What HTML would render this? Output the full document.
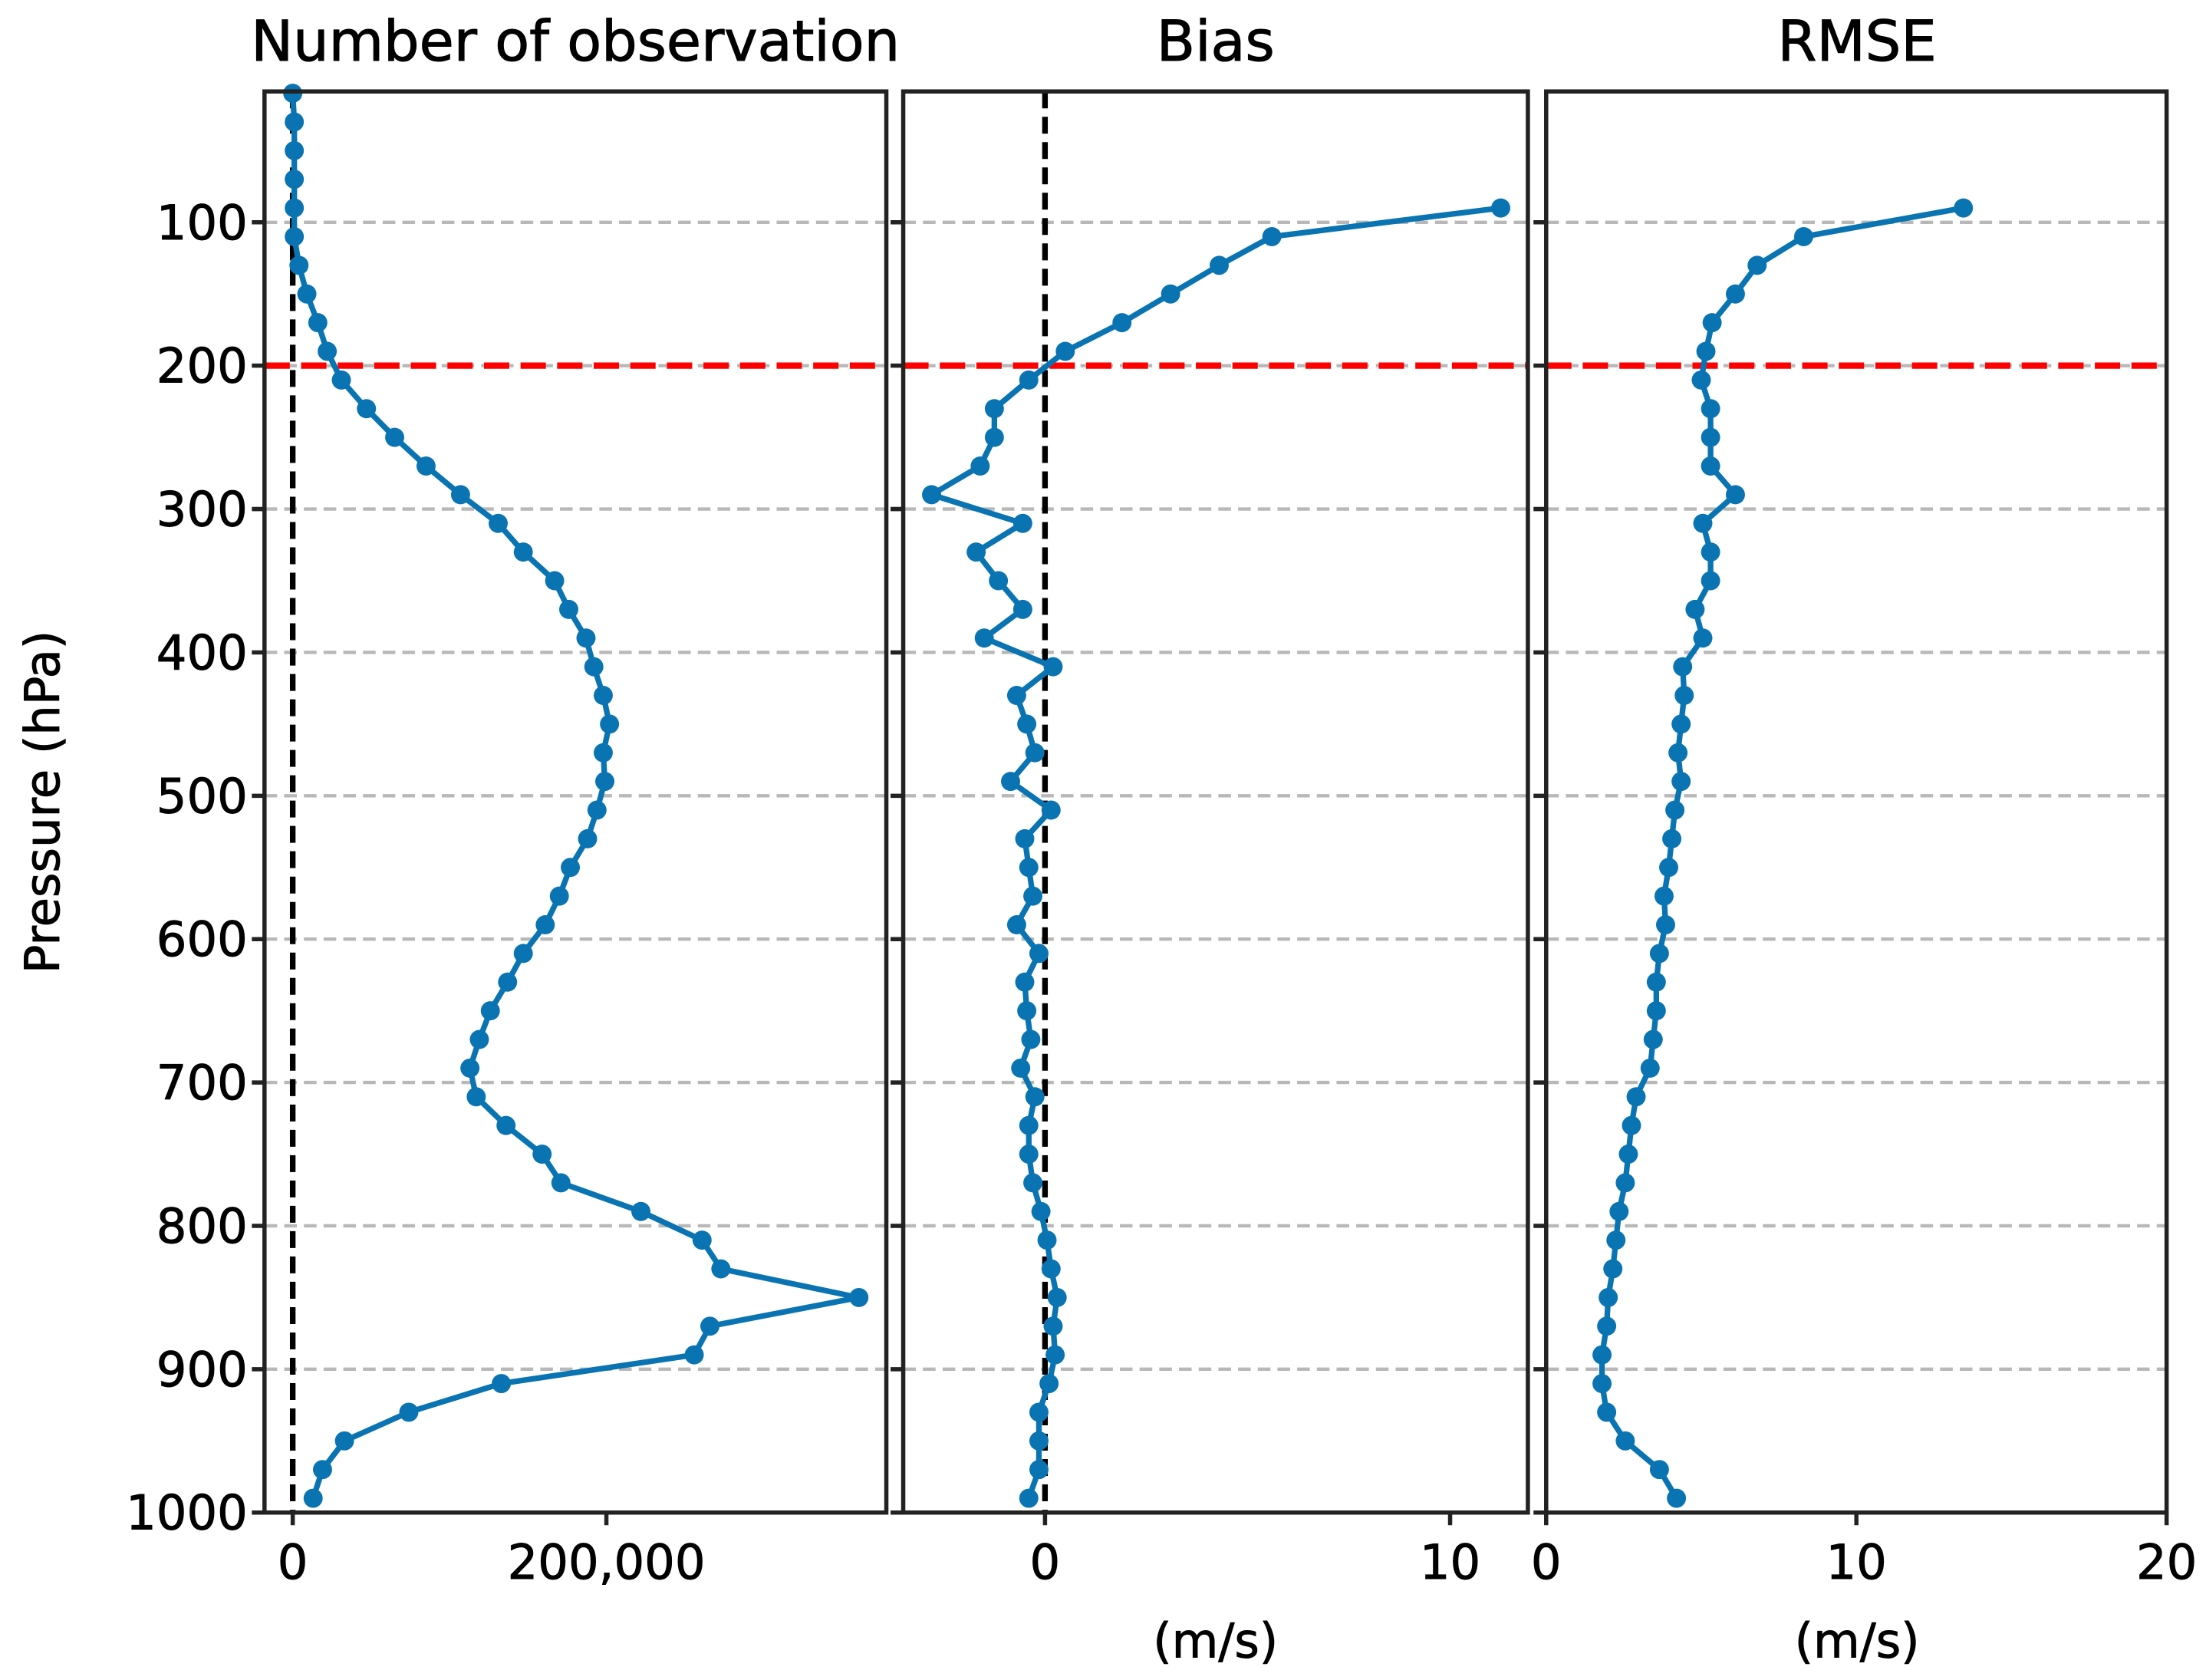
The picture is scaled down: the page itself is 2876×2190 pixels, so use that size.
<!DOCTYPE html>
<html><head><meta charset="utf-8"><style>
html,body{margin:0;padding:0;background:#fff}
svg{display:block;font-family:"DejaVu Sans","Liberation Sans",sans-serif}
</style></head><body>
<svg id="chart" width="2876" height="2190" viewBox="0 0 1568 1194" xmlns="http://www.w3.org/2000/svg"></svg>
<script>
const pressureLevels = [10,30,50,70,90,110,130,150,170,190,210,230,250,270,290,310,330,350,370,390,410,430,450,470,490,510,530,550,570,590,610,630,650,670,690,710,730,750,770,790,810,830,850,870,890,910,930,950,970,990];
const obsCount = [0,1000,1000,1000,1000,1000,4000,9000,16000,22000,31000,47000,65000,85000,107000,131000,147000,167000,176000,187000,192000,198000,202000,198000,199000,194000,188000,177000,170000,161000,147000,137000,126000,119000,113000,117000,136000,159000,171000,222000,261000,273000,361000,266000,256000,133000,74000,33000,19000,13000];
const biasLevels = pressureLevels.slice(4);
const biasValues = [11.25,5.6,4.3,3.1,1.9,0.5,-0.4,-1.25,-1.25,-1.6,-2.8,-0.55,-1.7,-1.15,-0.55,-1.5,0.2,-0.7,-0.45,-0.25,-0.85,0.15,-0.5,-0.4,-0.3,-0.7,-0.15,-0.5,-0.45,-0.35,-0.6,-0.25,-0.4,-0.4,-0.3,-0.1,0.05,0.15,0.3,0.2,0.25,0.1,-0.15,-0.15,-0.15,-0.4];
const rmseValues = [13.45,8.3,6.8,6.1,5.35,5.15,5.0,5.3,5.3,5.3,6.1,5.05,5.3,5.3,4.8,5.05,4.4,4.45,4.35,4.25,4.35,4.15,4.05,3.95,3.8,3.85,3.65,3.55,3.55,3.45,3.35,2.9,2.75,2.65,2.55,2.35,2.25,2.15,2.0,1.95,1.8,1.8,1.95,2.55,3.65,4.2];
const yTicks = [100,200,300,400,500,600,700,800,900,1000];
const gridLevels = [100,200,300,400,500,600,700,800,900];
const obsTicks = [0,200000];
const obsTickLabels = ["0","200,000"];
const biasTicks = [0,10];
const rmseTicks = [0,10,20];

const NS="http://www.w3.org/2000/svg";
const svg=document.getElementById('chart');
function el(tag,attrs,parent){const e=document.createElementNS(NS,tag);for(const k in attrs)e.setAttribute(k,attrs[k]);(parent||svg).appendChild(e);return e;}
const TOP=65,BOT=1075;
function yScale(p){return 158+(p-100)*(1075-158)/900;}
const panels=[
 {name:'obs',x0:188,x1:630,vmin:-18000,vmax:378500,title:'Number of observation',tx:409},
 {name:'bias',x0:642,x1:1086,vmin:-3.5,vmax:11.92,title:'Bias',tx:864},
 {name:'rmse',x0:1099,x1:1540,vmin:0,vmax:20,title:'RMSE',tx:1320}
];
panels.forEach(p=>{p.x=v=>p.x0+(v-p.vmin)/(p.vmax-p.vmin)*(p.x1-p.x0);});
const C='#0a74b2';
panels.forEach(p=>{
  const g=el('g',{});
  
  
  gridLevels.forEach(l=>{
    const ln=el('line',{x1:p.x0,x2:p.x1,y1:yScale(l),y2:yScale(l),stroke:'#b8b8b8','stroke-width':2.4,'stroke-dasharray':'9,5'},g);
    
    
  });
  const r=el('line',{x1:p.x0,x2:p.x1,y1:yScale(200),y2:yScale(200),stroke:'#ff0000','stroke-width':4.5,'stroke-dasharray':'18,8'},g);
  
  
  const t=el('text',{x:p.tx,y:43,'font-size':40,'text-anchor':'middle',fill:'#000','stroke':'#000','stroke-width':0.6},g);
  t.textContent=p.title;
  
  
});
[panels[0],panels[1]].forEach(p=>{
  const z=el('line',{x1:p.x(0),x2:p.x(0),y1:TOP,y2:BOT,stroke:'#000','stroke-width':4,'stroke-dasharray':'12,6'});
  
  
});
function series(p,levels,vals,name){
  const pts=levels.map((l,i)=>[p.x(vals[i]),yScale(l)]);
  const pl=el('polyline',{points:pts.map(q=>q.join(',')).join(' '),fill:'none',stroke:C,'stroke-width':4,'stroke-linejoin':'round'});
  
  
  pts.forEach(q=>{
    const c=el('circle',{cx:q[0],cy:q[1],r:6.8,fill:C});
    
    
  });
}
series(panels[0],pressureLevels,obsCount,'obs');
series(panels[1],biasLevels,biasValues,'bias');
series(panels[2],biasLevels,rmseValues,'rmse');
panels.forEach(p=>{
  const f=el('rect',{x:p.x0,y:TOP,width:p.x1-p.x0,height:BOT-TOP,fill:'none',stroke:'#222','stroke-width':3});
  
  
  yTicks.forEach(l=>{el('line',{x1:p.x0-9,x2:p.x0,y1:yScale(l),y2:yScale(l),stroke:'#222','stroke-width':3});});
});
const TS={'font-size':34,fill:'#000',stroke:'#000','stroke-width':0.5};
yTicks.forEach(l=>{
  const t=el('text',Object.assign({x:176,y:yScale(l)+12,'text-anchor':'end'},TS));
  t.textContent=l;
  
  
});
function xticks(p,ticks,labels){
  ticks.forEach((v,i)=>{
    el('line',{x1:p.x(v),x2:p.x(v),y1:BOT,y2:BOT+9,stroke:'#222','stroke-width':3});
    const t=el('text',Object.assign({x:p.x(v),y:1122,'text-anchor':'middle'},TS));
    t.textContent=labels[i];
    
    
  });
}
xticks(panels[0],obsTicks,obsTickLabels);
xticks(panels[1],biasTicks,biasTicks.map(String));
xticks(panels[2],rmseTicks,rmseTicks.map(String));
[[864,'bias-x-title'],[1320,'rmse-x-title']].forEach(a=>{
  const t=el('text',Object.assign({x:a[0],y:1178,'text-anchor':'middle'},TS));
  t.textContent='(m/s)';
  
  
});
const yt=el('text',Object.assign({x:0,y:0,'text-anchor':'middle',transform:'translate(42,570) rotate(-90)'},TS));
yt.textContent='Pressure (hPa)';


</script>
</body></html>
